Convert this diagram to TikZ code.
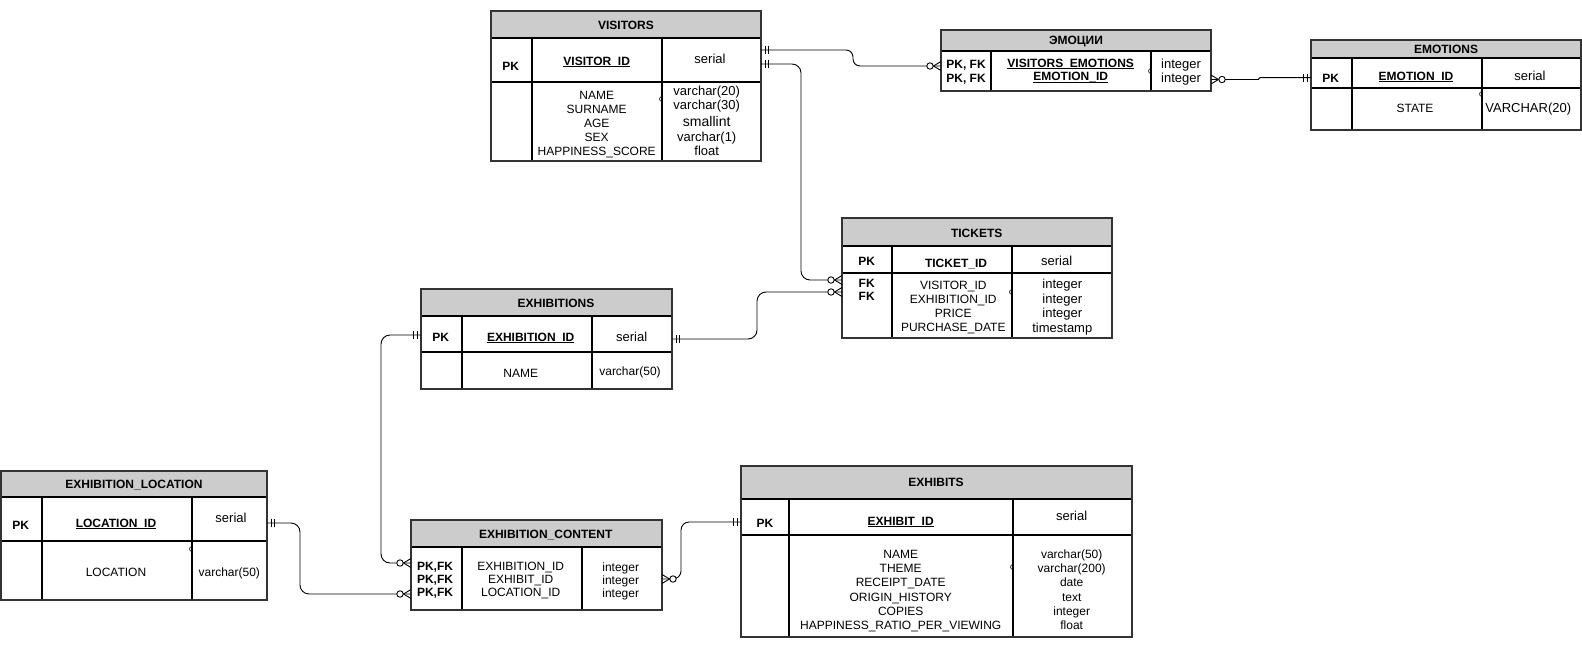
\documentclass[tikz,border=0pt]{standalone}
\usepackage{fontspec}
\setmainfont{Liberation Sans}

\newcommand\fsz[2]{\fontsize{#1}{#2}\selectfont}
% underline that sits just under the baseline, merging with underscores
\newcommand\ulkey[1]{\setbox0\hbox{#1}\rlap{\rule[-1.7pt]{\wd0}{0.9pt}}\box0}

\tikzset{
  headfill/.style={fill=black!20},
  tableframe/.style={draw=black!80, line width=2pt, inner sep=0pt, outer sep=0pt},
  rowline/.style={draw=black, line width=1.7pt},
  colline/.style={draw=black, line width=1.7pt},
  conn/.style={draw=black, line width=0.9pt},
  cell/.style={inner sep=0pt, text height=8.6pt, text depth=0pt, font=\fsz{12}{14}},
  cellb/.style={cell, font=\fsz{12}{14}\bfseries},
  cellm/.style={inner sep=0pt, text height=9.3pt, text depth=0pt, font=\fsz{13}{15}},
  tick/.style={draw=black, line width=0.6pt},
  pics/onemark/.style={code={
    \draw[conn] (4,-4) -- (4,4) (7.5,-4) -- (7.5,4);}},
  pics/zmmark/.style={code={
    \draw[conn] (0,-4.5) -- (7.5,0) -- (0,4.5);
    \draw[conn, fill=white] (11,0) circle[radius=3.2];}},
}

% name, left, top, right, bottom, header bottom, key row bottom, column 1, column 2
\newcommand\ertable[9]{%
  \fill[headfill] (#2,#3) rectangle (#4,#6);
  \draw[rowline] (#2,#6) -- (#4,#6) (#2,#7) -- (#4,#7);
  \draw[colline] (#8,#6) -- (#8,#5) (#9,#6) -- (#9,#5);
  \node[tableframe, minimum width={#4-#2}, minimum height={#5-#3}] (#1)
    at ({(#2+#4)/2},{(#3+#5)/2}) {};
}
% small notch on a column divider
\newcommand\notch[2]{\draw[tick] (#1,#2) ++(0,2.5) arc[start angle=90, end angle=270, radius=2.5];}

\begin{document}
\begin{tikzpicture}[x=1pt, y=-1pt]
\useasboundingbox (0,0) rectangle (1582,661);
\fill[white] (0,0) rectangle (1582,661);

%% VISITORS
\ertable{visitors}{491}{11}{761}{161}{38}{82}{532}{662}
\node[cellb] (vis-title) at (626,25) {VISITORS};
\node[cellb] (vis-pk) at (510.7,66) {PK};
\node[cellb] (vis-key) at (596.7,61) {\ulkey{VISITOR\_ID}};
\node[cellm] (vis-keyt) at (710,59) {serial};
\foreach \t/\y [count=\i] in {NAME/95, SURNAME/109, AGE/123, SEX/137, HAPPINESS\_SCORE/151}
  \node[cell] (vis-f\i) at (596.7,\y) {\t};
\foreach \t/\y/\s [count=\i] in {varchar(20)/91/13, varchar(30)/105/13, smallint/121.5/14, varchar(1)/137/13, float/151/13}
  \node[cellm, font=\fsz{\s}{16}] (vis-t\i) at (706.7,\y) {\t};
\notch{662}{99}

%% ЭМОЦИИ (link table)
\ertable{emotsii}{941}{30}{1211}{91}{51}{51}{991}{1151}
\node[cellb] (emq-title) at (1076,40.5) {ЭМОЦИИ};
\node[cellb] (emq-k1) at (966,64) {PK, FK};
\node[cellb] (emq-k2) at (966,77.7) {PK, FK};
\node[cellb] (emq-f1) at (1070.7,62.7) {\ulkey{VISITORS\_EMOTIONS}};
\node[cellb] (emq-f2) at (1070.7,76.7) {\ulkey{EMOTION\_ID}};
\node[cellm] (emq-t1) at (1181,64.3) {integer};
\node[cellm] (emq-t2) at (1181,78.3) {integer};
\notch{1151}{71}

%% EMOTIONS
\ertable{emotions}{1311}{40}{1581}{130}{58}{88}{1352}{1482}
\node[cellb] (emo-title) at (1446,49) {EMOTIONS};
\node[cellb] (emo-pk) at (1330.7,78.3) {PK};
\node[cellb] (emo-key) at (1416,76.3) {\ulkey{EMOTION\_ID}};
\node[cellm] (emo-keyt) at (1530,75.7) {serial};
\node[cell] (emo-f1) at (1415,107.7) {STATE};
\node[cellm] (emo-t1) at (1528.3,107.7) {VARCHAR(20)};
\notch{1482}{94}

%% TICKETS
\ertable{tickets}{842}{218}{1112}{338}{246}{273}{892}{1012}
\node[cellb] (tik-title) at (976.7,232.7) {TICKETS};
\node[cellb] (tik-pk) at (866.7,260.7) {PK};
\node[cellb] (tik-key) at (956,262.7) {TICKET\_ID};
\node[cellm] (tik-keyt) at (1056.7,261) {serial};
\node[cellb] (tik-fk1) at (866.7,282.7) {FK};
\node[cellb] (tik-fk2) at (866.7,296) {FK};
\foreach \t/\y [count=\i] in {VISITOR\_ID/285, EXHIBITION\_ID/299, PRICE/313.3, PURCHASE\_DATE/327}
  \node[cell] (tik-f\i) at (953.3,\y) {\t};
\foreach \t/\y [count=\i] in {integer/284, integer/299, integer/313.3, timestamp/328.3}
  \node[cellm] (tik-t\i) at (1062.3,\y) {\t};
\notch{1012}{292}

%% EXHIBITIONS
\ertable{exhibitions}{421}{289}{672}{389}{316}{352}{462}{592}
\node[cellb] (exn-title) at (556,303) {EXHIBITIONS};
\node[cellb] (exn-pk) at (440.7,337.3) {PK};
\node[cellb] (exn-key) at (530.7,337.3) {\ulkey{EXHIBITION\_ID}};
\node[cellm] (exn-keyt) at (631.7,337.3) {serial};
\node[cell] (exn-f1) at (520.7,372.7) {NAME};
\node[cell] (exn-t1) at (630,370.7) {varchar(50)};

%% EXHIBITION_LOCATION
\ertable{exloc}{1}{471}{267}{600}{497}{541}{42}{192}
\node[cellb] (loc-title) at (134,484) {EXHIBITION\_LOCATION};
\node[cellb] (loc-pk) at (20.7,525) {PK};
\node[cellb] (loc-key) at (116,522.7) {\ulkey{LOCATION\_ID}};
\node[cellm] (loc-keyt) at (231,518.3) {serial};
\node[cell] (loc-f1) at (116,571.7) {LOCATION};
\node[cell] (loc-t1) at (229.3,571.7) {varchar(50)};
\notch{192}{549}

%% EXHIBITION_CONTENT
\ertable{excont}{411}{520}{662}{610}{547}{547}{462}{582}
\node[cellb] (con-title) at (545.7,534.3) {EXHIBITION\_CONTENT};
\foreach \y [count=\i] in {566, 579, 592.3}
  \node[cellb] (con-k\i) at (435,\y) {PK,FK};
\foreach \t/\y [count=\i] in {EXHIBITION\_ID/565.7, EXHIBIT\_ID/579, LOCATION\_ID/592.3}
  \node[cell] (con-f\i) at (520.7,\y) {\t};
\foreach \y [count=\i] in {566.7, 580, 593.3}
  \node[cell] (con-t\i) at (620.7,\y) {integer};

%% EXHIBITS
\ertable{exhibits}{741}{466}{1132}{637}{499}{535}{789}{1013}
\node[cellb] (exs-title) at (936,482.3) {EXHIBITS};
\node[cellb] (exs-pk) at (765,523.3) {PK};
\node[cellb] (exs-key) at (900.7,521) {\ulkey{EXHIBIT\_ID}};
\node[cellm] (exs-keyt) at (1071.7,515.7) {serial};
\foreach \t/\y [count=\i] in {NAME/554.3, THEME/568.3, RECEIPT\_DATE/582.3, ORIGIN\_HISTORY/596.7, COPIES/610.7, HAPPINESS\_RATIO\_PER\_VIEWING/625}
  \node[cell] (exs-f\i) at (900.7,\y) {\t};
\foreach \t/\y [count=\i] in {varchar(50)/554.3, varchar(200)/568.3, date/582.3, text/596.7, integer/610.7, float/625}
  \node[cell] (exs-t\i) at (1071.7,\y) {\t};
\notch{1013}{567}

%% attachment points of the relationships
\coordinate (visA) at (visitors.east |- 0,50);
\coordinate (visB) at (visitors.east |- 0,64);
\coordinate (emqA) at (emotsii.west |- 0,66);
\coordinate (emqB) at (emotsii.east |- 0,79.5);
\coordinate (emoA) at (emotions.west |- 0,77.7);
\coordinate (tikA) at (tickets.west |- 0,280);
\coordinate (tikB) at (tickets.west |- 0,292);
\coordinate (exnA) at (exhibitions.east |- 0,339);
\coordinate (exnB) at (exhibitions.west |- 0,335);
\coordinate (locA) at (exloc.east |- 0,523);
\coordinate (conA) at (excont.west |- 0,563);
\coordinate (conB) at (excont.west |- 0,594);
\coordinate (conC) at (excont.east |- 0,579);
\coordinate (exsA) at (exhibits.west |- 0,522);

%% relationships
\draw[conn, rounded corners=7] (visA) -- ++(92,0) |- (emqA);
\draw[conn, rounded corners=9] (visB) -- ++(40,0) |- (tikA);
\draw[conn, rounded corners=9] (exnA) -- ++(85,0) |- (tikB);
\draw[conn, rounded corners=9] (exnB) -- ++(-40,0) |- (conA);
\draw[conn, rounded corners=9] (locA) -- ++(33,0) |- (conB);
\draw[conn, rounded corners=8] (conC) -- ++(19,0) |- (exsA);
\draw[conn, rounded corners=1] (emqB) -- ++(48,0) |- (emoA);

%% cardinality marks
\pic at (visA) {onemark};
\pic at (visB) {onemark};
\pic[rotate=180] at (emqA) {zmmark};
\pic at (emqB) {zmmark};
\pic[rotate=180] at (emoA) {onemark};
\pic[rotate=180] at (tikA) {zmmark};
\pic[rotate=180] at (tikB) {zmmark};
\pic at (exnA) {onemark};
\pic[rotate=180] at (exnB) {onemark};
\pic at (locA) {onemark};
\pic[rotate=180] at (conA) {zmmark};
\pic[rotate=180] at (conB) {zmmark};
\pic at (conC) {zmmark};
\pic[rotate=180] at (exsA) {onemark};
\end{tikzpicture}
\end{document}
